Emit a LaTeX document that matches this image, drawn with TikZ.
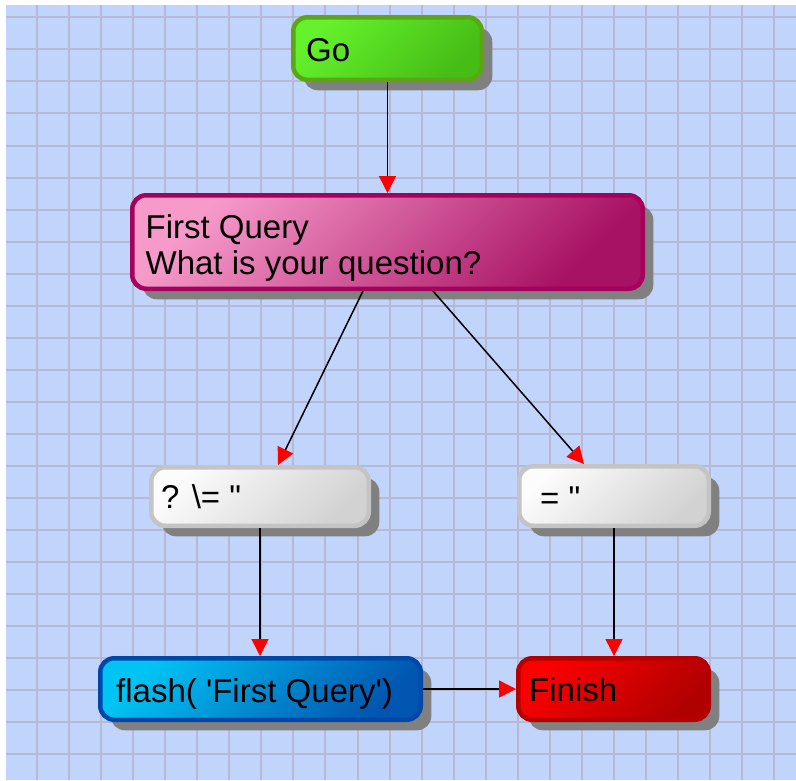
\documentclass[tikz,border=0pt]{standalone}
\usepackage{fontspec}
\setmainfont{Liberation Sans}
\usetikzlibrary{arrows.meta,shadows}

% canvas
\definecolor{canvasblue}{RGB}{192,212,252}
\definecolor{gridline}{RGB}{182,184,212}
\definecolor{shadowgray}{RGB}{128,128,128}
\definecolor{arrowred}{RGB}{255,0,0}
% node palettes: light corner, dark corner, border
\definecolor{gotop}{RGB}{100,242,44}
\definecolor{gobot}{RGB}{70,188,22}
\definecolor{goedge}{RGB}{92,166,20}
\definecolor{qtop}{RGB}{246,154,202}
\definecolor{qbot}{RGB}{168,18,100}
\definecolor{qedge}{RGB}{164,0,92}
\definecolor{ctop}{RGB}{252,252,252}
\definecolor{cbot}{RGB}{210,210,210}
\definecolor{cedge}{RGB}{196,196,196}
\definecolor{btop}{RGB}{0,196,244}
\definecolor{bbot}{RGB}{0,86,176}
\definecolor{bedge}{RGB}{0,72,168}
\definecolor{rtop}{RGB}{252,0,0}
\definecolor{rbot}{RGB}{176,0,0}
\definecolor{redge}{RGB}{180,0,0}

\begin{document}
\begin{tikzpicture}[x=1pt,y=-1pt,
  box/.style={rectangle, rounded corners=14pt, line width=4.5pt, inner sep=0pt,
    drop shadow={shadow xshift=10.5pt, shadow yshift=-10.5pt, fill=shadowgray, opacity=1}},
  gobox/.style={box, draw=goedge, top color=gotop, bottom color=gobot, shading angle=45},
  querybox/.style={box, draw=qedge, top color=qtop, bottom color=qbot, shading angle=45},
  condbox/.style={box, draw=cedge, top color=ctop, bottom color=cbot, shading angle=45},
  actionbox/.style={box, draw=bedge, top color=btop, bottom color=bbot, shading angle=45},
  endbox/.style={box, draw=redge, top color=rtop, bottom color=rbot, shading angle=45},
  txt/.style={inner sep=0pt, anchor=base west, text=black, font=\fontsize{33}{36}\selectfont},
  conn/.style={line width=1.5pt, draw=black,
    -{Triangle[length=17pt, width=17pt, color=arrowred, fill=arrowred]}}]

\useasboundingbox (0,0) rectangle (796,780);
\fill[white] (0,0) rectangle (796,780);
\fill[canvasblue] (6,5) rectangle (796,780);

% grid
\foreach \i in {0,...,23} {
  \draw[gridline, line width=2pt] (37+32.05*\i,5) -- (37+32.05*\i,780);
  \draw[gridline, line width=2pt] (6,17.3+32.05*\i) -- (796,17.3+32.05*\i);
}

% boxes
\node[gobox, minimum width=188.5pt, minimum height=62.5pt] (go) at (387.5,48.5) {};
\node[querybox, minimum width=510.5pt, minimum height=93.5pt] (fq) at (387.5,242) {};
\node[condbox, minimum width=217.5pt, minimum height=58.5pt] (ne) at (260,496.5) {};
\node[condbox, minimum width=189.5pt, minimum height=59.5pt] (eq) at (614,496) {};
\node[actionbox, minimum width=320.5pt, minimum height=61.5pt] (flash) at (260.5,689) {};
\node[endbox, minimum width=190.5pt, minimum height=61.5pt] (fin) at (613.5,689) {};

% labels
\node[txt] (go-t) at ([shift={(15,13)}]go.west) {Go};
\node[txt] (fq-t1) at ([shift={(15.4,-3.4)}]fq.west) {First Query};
\node[txt] (fq-t2) at ([shift={(15.4,32.8)}]fq.west) {What is your question?};
\node[txt] (ne-t) at ([shift={(12,12)}]ne.west) {? \textbackslash= \textquotedbl};
\node[txt] (eq-t) at ([shift={(23,13)}]eq.west) {= \textquotedbl};
\node[txt] (flash-t) at ([shift={(18,13)}]flash.west) {flash( \textquotesingle First Query\textquotesingle)};
\node[txt] (fin-t) at ([shift={(13,12.7)}]fin.west) {Finish};

% connectors
\draw[conn] (go.south) -- (fq.north);
\draw[conn] ([xshift=-24.5pt]fq.south) -- ([xshift=18pt]ne.north);
\draw[conn] ([xshift=45.5pt]fq.south) -- ([xshift=-30pt]eq.north);
\draw[conn] (ne.south) -- (ne.south |- flash.north);
\draw[conn] (eq.south) -- (eq.south |- fin.north);
\draw[conn] (flash.east) -- (fin.west);
\end{tikzpicture}
\end{document}
